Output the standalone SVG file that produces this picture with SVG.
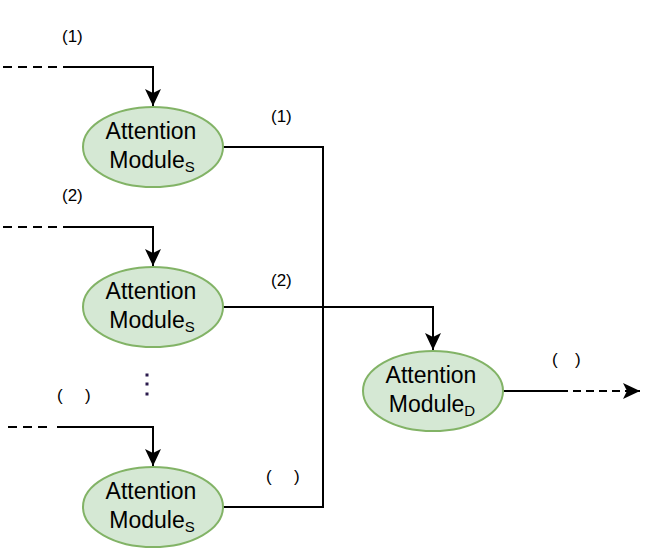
<svg xmlns="http://www.w3.org/2000/svg" width="661" height="550" viewBox="0 0 661 550">
<style>
.node ellipse{fill:#d5e8d4;stroke:#82b366;stroke-width:2}
.nt{font-family:"Liberation Sans",Arial,sans-serif;font-size:23px;fill:#000;text-anchor:middle}
.sub{font-size:15px}
.lbl{font-family:"Liberation Sans",Arial,sans-serif;font-size:17px;fill:#000}
.ln{fill:none;stroke:#000;stroke-width:2}
.dash{stroke-dasharray:9,6}
</style>
<defs>
<marker id="arr" viewBox="0 0 17 16" refX="17" refY="8" markerWidth="17" markerHeight="16" markerUnits="userSpaceOnUse" orient="auto">
<path d="M0,0 L17,8 L0,16 L4,8 Z" fill="#000"/>
</marker>
</defs>
<rect width="661" height="550" fill="#fff"/>
<g id="connectors">
<line class="ln dash" x1="3" y1="67" x2="57" y2="67"/>
<path class="ln" d="M63,67 H153 V106" marker-end="url(#arr)"/>
<line class="ln dash" x1="3" y1="227" x2="57" y2="227"/>
<path class="ln" d="M63,227 H153 V266" marker-end="url(#arr)"/>
<line class="ln dash" x1="8" y1="427" x2="51" y2="427"/>
<path class="ln" d="M57,427 H153 V466" marker-end="url(#arr)"/>
<path class="ln" d="M223,147 H323 V507 H223"/>
<path class="ln" d="M223,307 H433 V350" marker-end="url(#arr)"/>
<line class="ln" x1="503" y1="391" x2="568" y2="391"/>
<line class="ln" x1="573" y1="391" x2="640" y2="391" stroke-dasharray="8,5" marker-end="url(#arr)"/>
</g>
<g id="labels">
<text class="lbl" x="62" y="42">(1)</text>
<text class="lbl" x="271" y="122">(1)</text>
<text class="lbl" x="62" y="201">(2)</text>
<text class="lbl" x="271" y="286">(2)</text>
<text class="lbl"><tspan x="57" y="401">(</tspan><tspan x="85" y="401">)</tspan></text>
<text class="lbl"><tspan x="266" y="482">(</tspan><tspan x="294" y="482">)</tspan></text>
<text class="lbl"><tspan x="552" y="365">(</tspan><tspan x="575" y="365">)</tspan></text>
</g>
<g id="dots" fill="#2b1b4d">
<rect x="145.5" y="373.5" width="3" height="3"/>
<rect x="145.5" y="382.5" width="3" height="3"/>
<rect x="145.5" y="392.5" width="3" height="3"/>
</g>
<g id="node-s1" class="node">
<ellipse cx="153" cy="147" rx="70" ry="40"/>
<text class="nt" x="151" y="139">Attention</text>
<text class="nt" x="152" y="168">Module<tspan class="sub" dy="4">S</tspan></text>
</g>
<g id="node-s2" class="node">
<ellipse cx="153" cy="307" rx="70" ry="40"/>
<text class="nt" x="151" y="299">Attention</text>
<text class="nt" x="152" y="328">Module<tspan class="sub" dy="4">S</tspan></text>
</g>
<g id="node-s3" class="node">
<ellipse cx="153" cy="507" rx="70" ry="40"/>
<text class="nt" x="151" y="499">Attention</text>
<text class="nt" x="152" y="528">Module<tspan class="sub" dy="4">S</tspan></text>
</g>
<g id="node-d" class="node">
<ellipse cx="433" cy="391" rx="70" ry="40"/>
<text class="nt" x="431" y="383">Attention</text>
<text class="nt" x="432" y="412">Module<tspan class="sub" dy="4">D</tspan></text>
</g>
</svg>
